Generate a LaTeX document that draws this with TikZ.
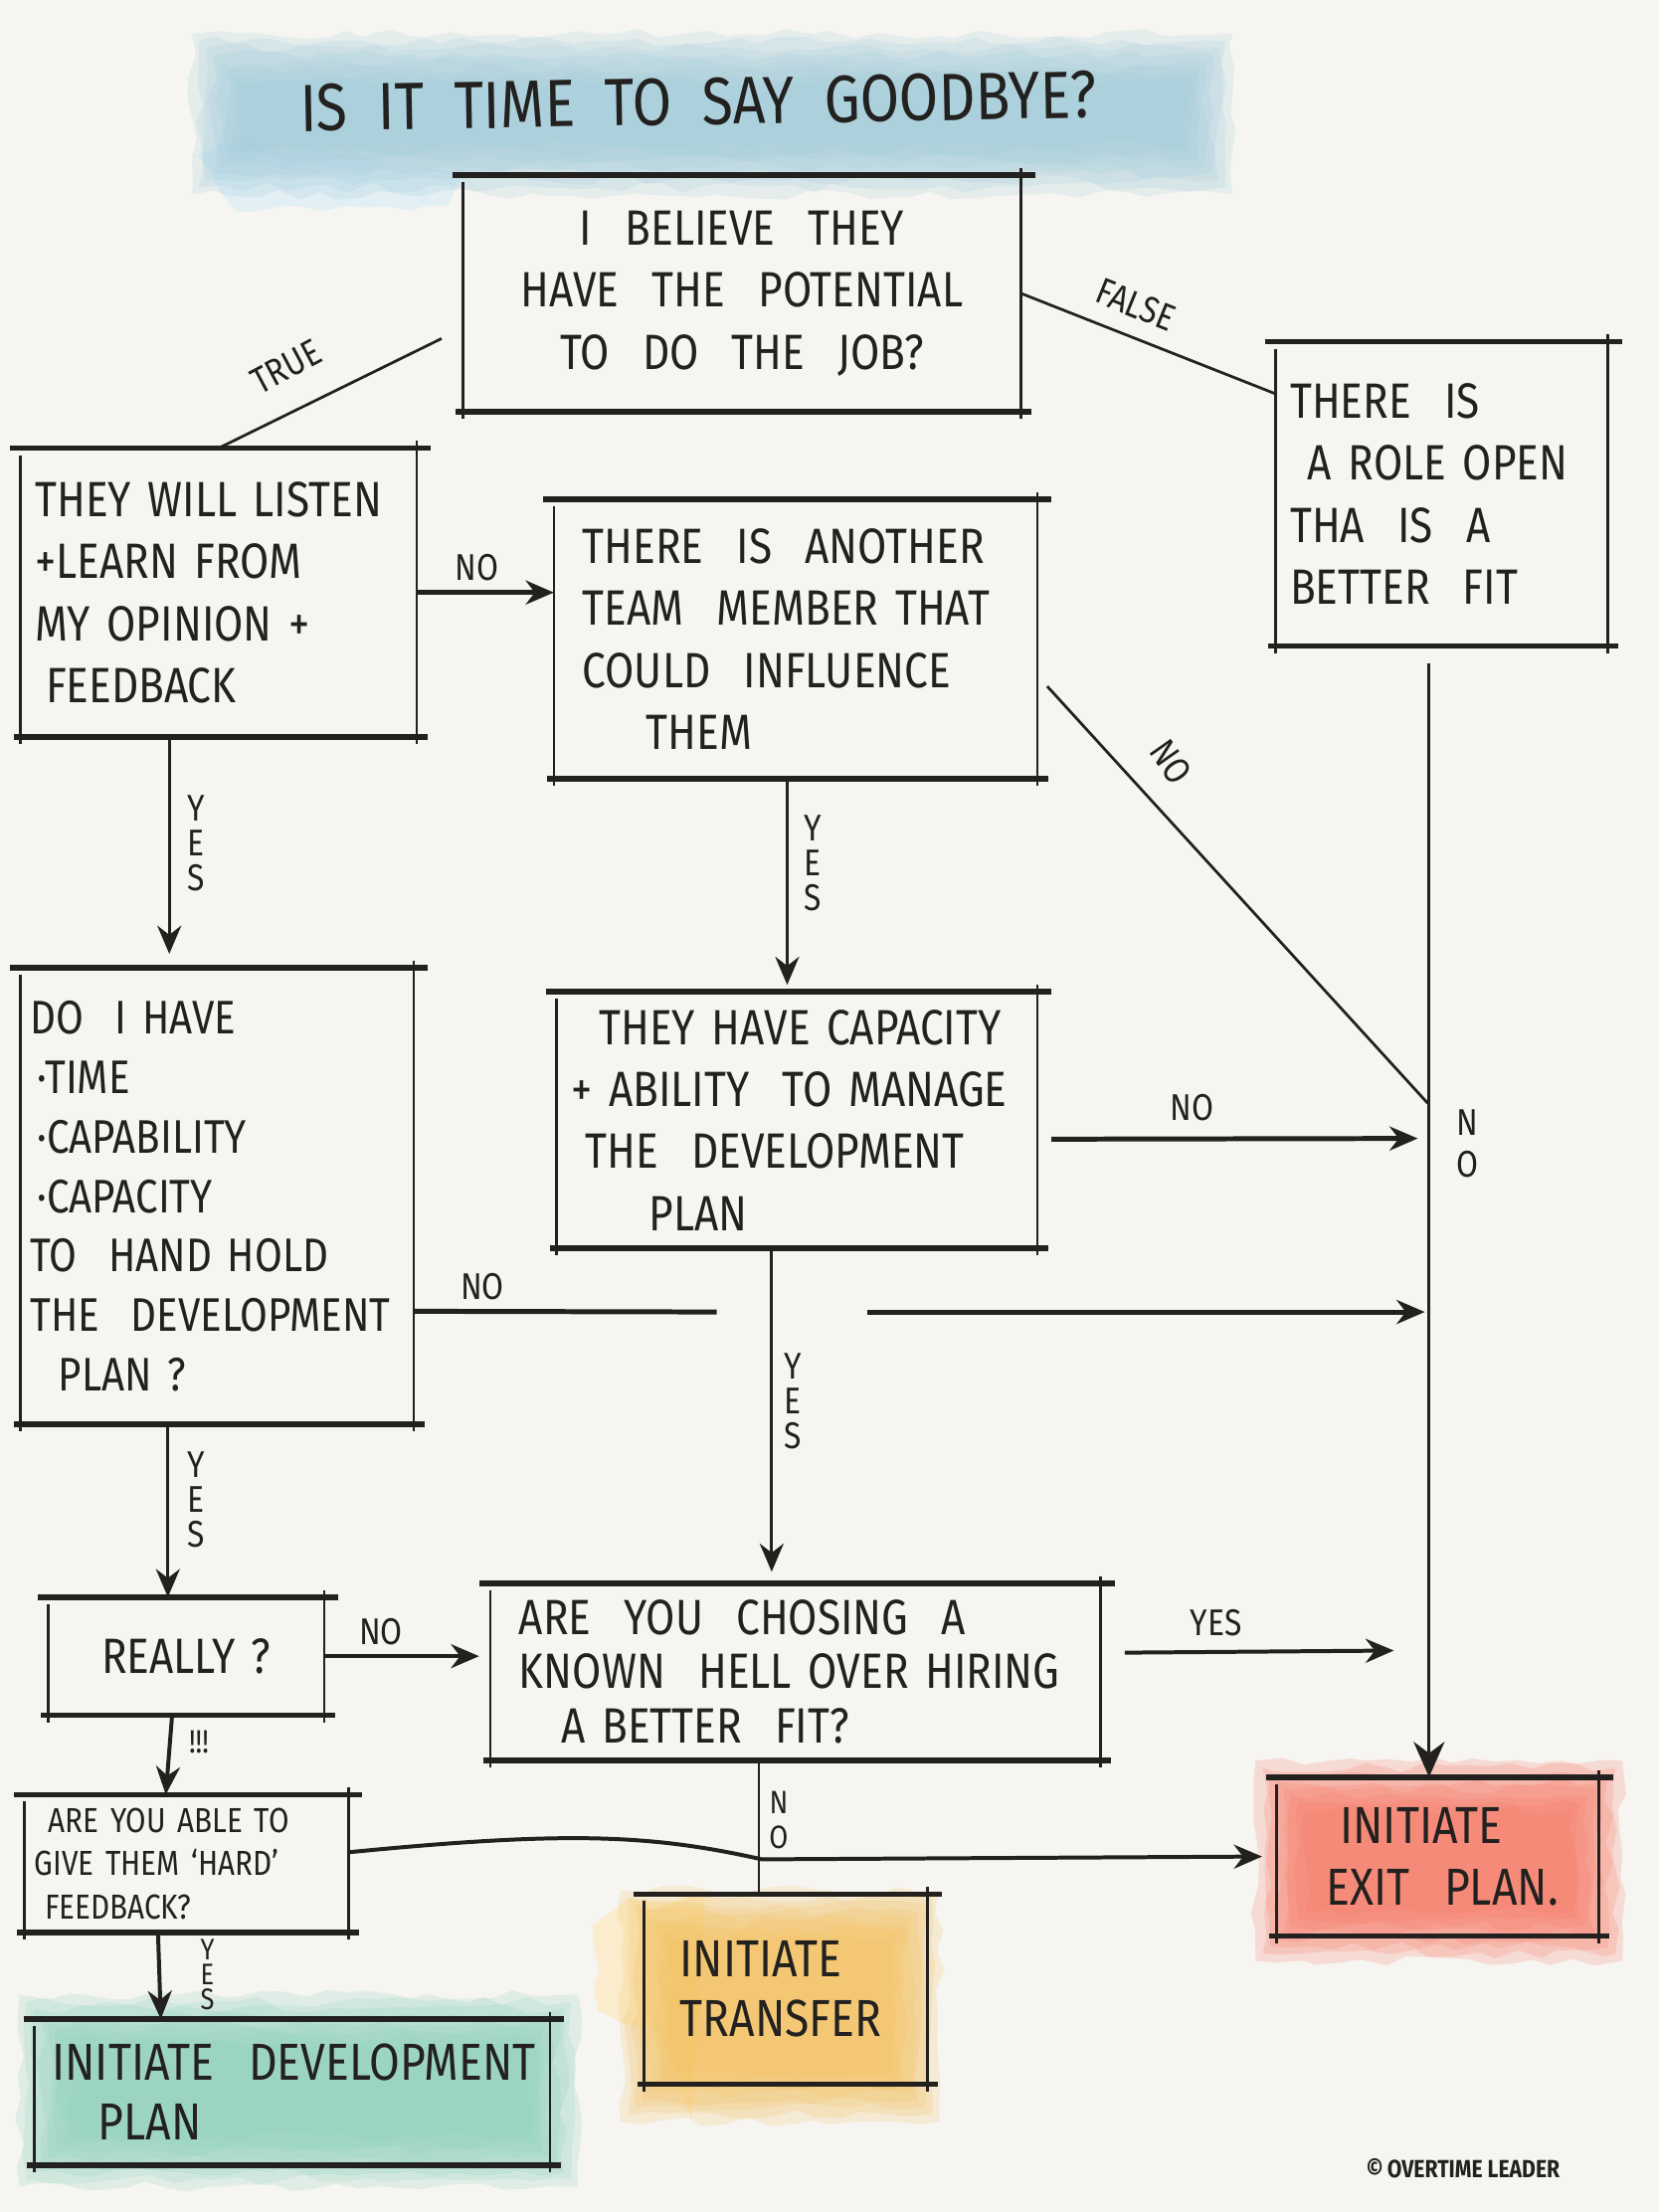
\documentclass[tikz,border=0pt]{standalone}
\usepackage{fontspec}
\setmainfont{Fira Sans}[FakeStretch=0.85]
\usetikzlibrary{positioning,arrows.meta,decorations.pathmorphing}
\definecolor{paper}{RGB}{246,245,241}
\definecolor{ink}{RGB}{34,33,31}
\definecolor{washblue}{RGB}{160,203,218}
\definecolor{washred}{RGB}{248,118,98}
\definecolor{washyellow}{RGB}{243,192,92}
\definecolor{washgreen}{RGB}{140,208,186}
\newcommand\qfont{\fontsize{20}{25}\selectfont}
\newcommand\lblfont{\fontsize{15}{14}\selectfont}
\tikzset{
  qbox/.style={inner xsep=2mm, inner ysep=0pt, align=left, font=\qfont, text=ink},
  lbl/.style={font=\lblfont, text=ink, align=center, inner sep=0pt},
  link/.style={draw=ink, line width=1.1pt},
  flow/.style={link, -{Stealth[length=4mm,width=3.4mm]}},
  boldflow/.style={flow, line width=2pt},
  wash/.style={decorate, decoration={random steps, segment length=3mm, amplitude=0.7mm}},
}
% watercolour patch: stacked translucent layers, darker in the middle
\newcommand\softwash[5]{%
  \foreach \i in {0,...,7}
    \fill[#1, fill opacity=0.2, wash] (#2+5*\i,#3+5*\i) rectangle (#4-5*\i,#5-5*\i);
}
% hand drawn frame: heavy top and bottom, thin sides
\newcommand\sketchframe[1]{%
  \draw[ink, line width=2.3pt] ([xshift=-1.5mm]#1.north west) -- ([xshift=2mm]#1.north east);
  \draw[ink, line width=2.3pt] ([xshift=-1mm]#1.south west) -- ([xshift=1.5mm]#1.south east);
  \draw[ink, line width=1.1pt] ([yshift=-1mm]#1.north west) -- ([yshift=-1mm]#1.south west);
  \draw[ink, line width=1.1pt] ([yshift=1mm]#1.north east) -- ([yshift=-1mm]#1.south east);
}
\begin{document}
\begin{tikzpicture}[x=0.2mm, y=-0.2mm]
\pgfmathsetseed{7}
\fill[paper] (0,0) rectangle (1176,1568);
\useasboundingbox (0,0) rectangle (1176,1568);

% washes
\fill[washblue!30, wash] (140,110) -- (168,150) -- (318,146) -- (330,120) -- (160,100) -- cycle;
\softwash{washblue}{136}{24}{874}{138}
\softwash{washred}{890}{1248}{1150}{1390}
\fill[washyellow!30, wash] (420,1365) -- (445,1346) -- (500,1346) -- (490,1502) -- (470,1445) -- (424,1425) -- cycle;
\softwash{washyellow}{440}{1340}{666}{1504}
\softwash{washgreen}{14}{1414}{410}{1550}

% title
\node[font=\fontsize{27}{30}\selectfont, text=ink, rotate=1] (title) at (495,72) {IS\ \ IT\ \ TIME\ \ TO\ \ SAY\ \ GOODBYE?};

% questions and outcomes
\node[qbox, align=center, text width=75mm, minimum height=33.4mm] (belief) at (526,208) {I\ \ BELIEVE\ \ THEY\\HAVE\ \ THE\ \ POTENTIAL\\TO\ \ DO\ \ THE\ \ JOB?};
\node[qbox, text width=43mm, minimum height=43mm] (role) at (1022,350) {THERE\ \ IS\\\hspace*{2.5mm}A ROLE OPEN\\THA\ \ IS\ \ A\\BETTER\ \ FIT};
\node[qbox, text width=52mm, minimum height=40.8mm] (listen) at (155,420) {THEY WILL LISTEN\\+LEARN FROM\\MY OPINION +\\\hspace*{1.5mm}FEEDBACK};
\node[qbox, text width=64.4mm, minimum height=39.4mm] (another) at (564,453) {\hspace*{2mm}THERE\ \ IS\ \ ANOTHER\\\hspace*{2mm}TEAM\ \ MEMBER THAT\\\hspace*{2mm}COULD\ \ INFLUENCE\\\hspace*{11mm}THEM};
\node[qbox, inner xsep=1.3mm, text width=53mm, minimum height=64.6mm, font=\fontsize{19}{24}\selectfont] (dohave) at (154,848) {DO\ \ I HAVE\\\hspace*{1mm}·TIME\\\hspace*{1mm}·CAPABILITY\\\hspace*{1mm}·CAPACITY\\TO\ \ HAND HOLD\\THE\ \ DEVELOPMENT\\\hspace*{4mm}PLAN ?};
\node[qbox, text width=64mm, minimum height=36.2mm] (capacity) at (565,794) {\hspace*{4mm}THEY HAVE CAPACITY\\+ ABILITY\ \ TO MANAGE\\\hspace*{2mm}THE\ \ DEVELOPMENT\\\hspace*{11mm}PLAN};
\node[qbox, align=center, text width=35mm, minimum height=16.6mm] (really) at (132,1174) {REALLY ?\\[3mm]};
\node[qbox, text width=82.4mm, minimum height=25mm, font=\fontsize{20}{22}\selectfont] (choosing) at (564,1185) {\hspace*{2mm}ARE\ \ YOU\ \ CHOSING\ \ A\\\hspace*{2mm}KNOWN\ \ HELL OVER HIRING\\\hspace*{8mm}A BETTER\ \ FIT?};
\node[qbox, inner xsep=1.4mm, text width=43mm, minimum height=19.4mm, font=\fontsize{14}{17.5}\selectfont] (hard) at (132,1321) {\hspace*{2mm}ARE\ YOU\ ABLE TO\\GIVE THEM ‘HARD’\\\hspace*{1.5mm}FEEDBACK?};
\node[qbox, text width=41.6mm, minimum height=22.4mm, font=\fontsize{21}{25}\selectfont] (exit) at (1019,1316) {\hspace*{7mm}INITIATE\\\hspace*{5mm}EXIT\ \ PLAN.};
\node[qbox, text width=36mm, minimum height=26.8mm, font=\fontsize{21}{24}\selectfont] (transfer) at (557,1410) {\hspace*{3mm}INITIATE\\\hspace*{3mm}TRANSFER};
\node[qbox, inner xsep=1mm, text width=71mm, minimum height=20.6mm, font=\fontsize{21}{24}\selectfont] (devplan) at (207,1483) {\hspace*{1.5mm}INITIATE\ \ DEVELOPMENT\\\hspace*{8mm}PLAN};
\foreach \b in {belief,role,listen,another,dohave,capacity,really,choosing,hard,exit,transfer,devplan}
  \sketchframe{\b};

% free ends
\coordinate (truestart) at (313,240);
\coordinate (trunktop) at (1013,470);
\coordinate (diagend) at (1012,782);
\coordinate (capno) at (1005,807);
\coordinate (gapleft) at (508,930);
\coordinate (gapright) at (615,930);
\coordinate (holdno) at (1010,930);
\coordinate (fityes) at (988,1170);

% connectors
\draw[link] (truestart) -- (listen.north);
\draw[link] (belief.east) -- ([yshift=-7.4mm]role.north west);
\draw[boldflow] (listen.east) -- (listen.east -| another.west);
\draw[flow] ([xshift=-7mm]listen.south) -- ([xshift=-7mm,yshift=2mm]listen.south |- dohave.north);
\draw[flow] ([xshift=-1.2mm]another.south) -- ([xshift=-1.2mm,yshift=1mm]another.south |- capacity.north);
\draw[link] ([xshift=1.4mm,yshift=-6.7mm]another.east) -- (diagend);
\draw[flow, -{Stealth[length=5mm,width=4.4mm]}] (trunktop) -- (trunktop |- exit.north);
\draw[boldflow] ([xshift=2mm,yshift=-2.7mm]capacity.east) -- (capno);
\draw[boldflow, -] ([yshift=-16.3mm]dohave.east) -- (gapleft);
\draw[boldflow] (gapright) -- (holdno);
\draw[flow] ([xshift=-3.6mm]capacity.south) -- ([xshift=-3.6mm,yshift=1.6mm]capacity.south |- choosing.north);
\draw[flow] ([xshift=-7mm]dohave.south) -- ([xshift=-7mm]dohave.south |- really.north);
\draw[flow, line width=1.6pt] (really.east) -- ([xshift=-1.6mm]really.east -| choosing.west);
\draw[flow, line width=1.6pt] ([xshift=3.4mm,yshift=2.7mm]choosing.east) -- (fityes);
\draw[link] ([xshift=-5.2mm]choosing.south) -- ([xshift=-5.2mm]choosing.south |- transfer.north);
\draw[flow, line width=1.6pt] ([xshift=-2mm]really.south) -- ([xshift=-2.9mm]hard.north);
\draw[flow, line width=1.6pt] ([yshift=1.6mm]hard.east) .. controls (400,1298) and (460,1300) .. (540,1318) -- ([xshift=-2mm]exit.west);
\draw[flow, line width=1.6pt] ([xshift=-4mm]hard.south) -- ([xshift=-3.6mm]hard.south |- devplan.north);

% labels
\node[lbl, rotate=28] (ltrue) at (203,260) {TRUE};
\node[lbl, rotate=-22] (lfalse) at (805,216) {FALSE};
\node[lbl] (lno1) at (338,402) {NO};
\node[lbl] (lyes1) at (139,598) {Y\\E\\S};
\node[lbl] (lyes2) at (576,612) {Y\\E\\S};
\node[lbl, rotate=-55] (lno2) at (830,540) {NO};
\node[lbl] (lno3) at (1040,811) {N\\[1mm]O};
\node[lbl] (lno4) at (845,785) {NO};
\node[lbl] (lno5) at (342,912) {NO};
\node[lbl] (lyes3) at (562,993) {Y\\E\\S};
\node[lbl] (lyes4) at (139,1063) {Y\\E\\S};
\node[lbl] (lno6) at (270,1157) {NO};
\node[lbl] (lyes5) at (862,1150) {YES};
\node[lbl, font=\fontsize{13}{14}\selectfont] (lno7) at (552,1290) {N\\O};
\node[lbl, font=\fontsize{13}{14}\selectfont] (lbang) at (141,1235) {!!!};
\node[lbl, font=\fontsize{12}{10}\selectfont] (lyes6) at (147,1400) {Y\\E\\S};
\node[font=\bfseries\fontsize{10}{12}\selectfont, text=ink] (credit) at (1037,1537) {©\,OVERTIME LEADER};
\end{tikzpicture}
\end{document}
